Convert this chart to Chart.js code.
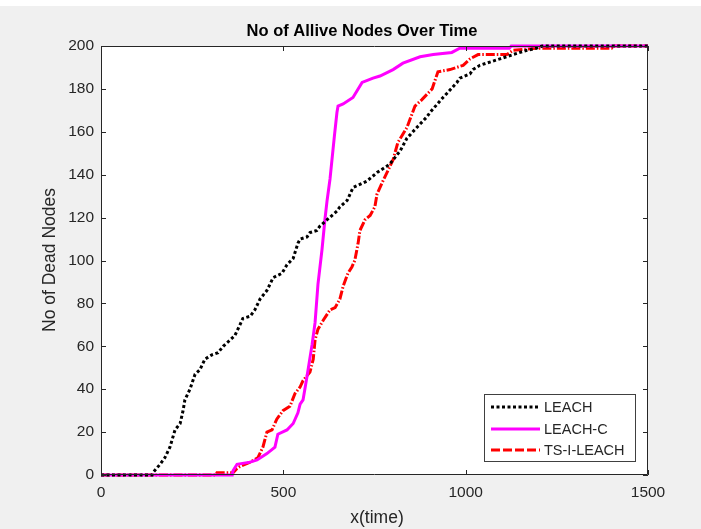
<!DOCTYPE html>
<html>
<head>
<meta charset="utf-8">
<script src="https://cdn.jsdelivr.net/npm/chart.js@4/dist/chart.umd.min.js"></script>
<style>
  html, body { margin: 0; padding: 0; background: #fff; }
  canvas { display: block; }
</style>
</head>
<body>
<canvas id="nodesChart" width="701" height="529"></canvas>
<script>
var seriesNames = ['LEACH', 'LEACH-C', 'TS-I-LEACH'];

var leachT = [0, 140, 142, 162, 175, 189, 203, 217, 225, 230, 244, 258, 271, 285, 304, 321, 335, 348, 367, 381, 389, 409, 422, 436, 455, 472, 496, 510, 527, 540, 546, 565, 573, 592, 600, 620, 647, 655, 675, 691, 729, 757, 784, 792, 820, 839, 866, 894, 902, 938, 949, 976, 984, 1012, 1020, 1039, 1094, 1130, 1168, 1195, 1210, 1500];
var leachV = [0, 0, 1, 5, 8, 13, 21, 24, 30, 35, 40, 47, 49, 54, 56, 57, 60, 62, 65, 70, 73, 74, 77, 82, 86, 92, 94, 98, 101, 108, 110, 111, 113, 114, 116, 119, 123, 125, 128, 134, 137, 141, 144, 145, 151, 157, 162, 167, 169, 176, 178, 183, 185, 187, 189, 191, 194, 196, 198, 199, 200, 200];

var leachCT = [0, 360, 362, 373, 409, 428, 455, 477, 485, 510, 527, 540, 546, 554, 559, 565, 579, 587, 595, 606, 614, 620, 628, 640, 647, 650, 664, 691, 716, 746, 765, 801, 828, 875, 911, 962, 984, 1120, 1125, 1500];
var leachCV = [0, 0, 2, 5, 6, 7, 10, 13, 19, 21, 24, 29, 33, 35, 40, 46, 61, 71, 89, 105, 119, 128, 138, 158, 169, 172, 173, 176, 183, 185, 186, 189, 192, 195, 196, 197, 199, 199, 200, 200];

var tsiT = [0, 315, 318, 362, 373, 381, 409, 430, 444, 455, 469, 482, 499, 518, 532, 546, 554, 573, 582, 587, 595, 609, 628, 642, 655, 664, 677, 688, 696, 705, 710, 724, 738, 751, 757, 773, 801, 814, 839, 861, 880, 908, 924, 957, 993, 1012, 1034, 1113, 1130, 1195, 1400, 1405, 1500];
var tsiV = [0, 0, 1, 1, 3, 4, 6, 8, 13, 20, 21, 26, 30, 32, 38, 41, 44, 48, 54, 63, 68, 72, 77, 78, 82, 88, 94, 97, 100, 108, 114, 119, 121, 125, 131, 137, 147, 155, 162, 172, 175, 180, 188, 189, 191, 194, 196, 196, 198, 199, 199, 200, 200];

var xTicks = [0, 500, 1000, 1500];
var yTicks = [0, 20, 40, 60, 80, 100, 120, 140, 160, 180, 200];

var FONT = '"Liberation Sans", Arial, Helvetica, sans-serif';
var TEXT = '#262626';

function toPoints(ts, vs) {
	return ts.map(function(t, i) { return { x: t, y: vs[i] }; });
}

// background, title, axis labels, box, inward ticks, legend
var matlabLook = {
	id: 'matlabLook',
	beforeDraw: function(chart) {
		var c = chart.ctx, a = chart.chartArea;
		c.save();
		c.fillStyle = '#fff';
		c.fillRect(0, 0, chart.width, chart.height);
		c.fillStyle = '#f0f0f0';
		c.fillRect(0, 6, chart.width, chart.height - 6);
		c.fillStyle = '#fff';
		c.fillRect(a.left, a.top, a.right - a.left, a.bottom - a.top);
		c.restore();
	},
	afterDraw: function(chart) {
		var c = chart.ctx, a = chart.chartArea;
		var xs = chart.scales.x, ys = chart.scales.y;
		c.save();

		// box and ticks
		c.strokeStyle = TEXT;
		c.lineWidth = 1;
		c.beginPath();
		c.rect(a.left + 0.5, a.top + 0.5, a.right - a.left - 1, a.bottom - a.top - 1);
		xTicks.forEach(function(v) {
			var px = Math.round(xs.getPixelForValue(v)) + 0.5;
			c.moveTo(px, a.bottom); c.lineTo(px, a.bottom - 5);
			c.moveTo(px, a.top); c.lineTo(px, a.top + 5);
		});
		yTicks.forEach(function(v) {
			var py = Math.round(ys.getPixelForValue(v)) + 0.5;
			c.moveTo(a.left, py); c.lineTo(a.left + 5, py);
			c.moveTo(a.right, py); c.lineTo(a.right - 5, py);
		});
		c.stroke();

		// title
		c.fillStyle = '#000';
		c.font = 'bold 16.5px ' + FONT;
		c.textAlign = 'center';
		c.textBaseline = 'middle';
		c.fillText('No of Allive Nodes Over Time', 362, 31);

		// axis titles
		c.fillStyle = TEXT;
		c.font = '17.5px ' + FONT;
		c.fillText('x(time)', 377, 518);
		c.translate(50, 260);
		c.rotate(-Math.PI / 2);
		c.fillText('No of Dead Nodes', 0, 0);
		c.setTransform(1, 0, 0, 1, 0, 0);

		// legend
		var bx = 484, by = 394, bw = 151, bh = 67;
		c.fillStyle = '#fff';
		c.fillRect(bx, by, bw, bh);
		c.strokeStyle = '#404040';
		c.strokeRect(bx + 0.5, by + 0.5, bw, bh);
		var rows = [407, 429, 450];
		chart.data.datasets.forEach(function(ds, i) {
			c.strokeStyle = ds.borderColor;
			c.lineWidth = ds.borderWidth;
			c.setLineDash(ds.legendDash || ds.borderDash || []);
			c.beginPath();
			c.moveTo(491, rows[i]); c.lineTo(540, rows[i]);
			c.stroke();
			c.setLineDash([]);
			c.fillStyle = TEXT;
			c.font = '14.5px ' + FONT;
			c.textAlign = 'left';
			c.fillText(ds.label, 544, rows[i] + 1);
		});
		c.restore();
	}
};

new Chart(document.getElementById('nodesChart'), {
	type: 'line',
	data: {
		datasets: [
			{ label: seriesNames[0], data: toPoints(leachT, leachV), borderColor: '#000000', borderWidth: 3, borderDash: [3, 2.5] },
			{ label: seriesNames[1], data: toPoints(leachCT, leachCV), borderColor: '#ff00ff', borderWidth: 3 },
			{ label: seriesNames[2], data: toPoints(tsiT, tsiV), borderColor: '#ff0000', borderWidth: 3, borderDash: [9, 2, 1.5, 2], legendDash: [9, 3] }
		]
	},
	options: {
		responsive: false,
		animation: false,
		devicePixelRatio: 1,
		layout: { padding: { top: 46, right: 53, left: 0, bottom: 0 } },
		elements: { point: { radius: 0 }, line: { tension: 0 } },
		datasets: { line: { clip: false } },
		plugins: { legend: { display: false }, title: { display: false }, tooltip: { enabled: false } },
		scales: {
			x: {
				type: 'linear', min: 0, max: 1500,
				afterBuildTicks: function(s) { s.ticks = xTicks.map(function(v) { return { value: v }; }); },
				afterFit: function(s) { s.height = 54; },
				grid: { display: false, drawTicks: false },
				border: { display: false },
				ticks: { color: TEXT, font: { family: FONT, size: 15.5 }, padding: 8, maxRotation: 0,
					callback: function(v) { return String(v); } }
			},
			y: {
				type: 'linear', min: 0, max: 200,
				afterBuildTicks: function(s) { s.ticks = yTicks.map(function(v) { return { value: v }; }); },
				afterFit: function(s) { s.width = 101; },
				grid: { display: false, drawTicks: false },
				border: { display: false },
				ticks: { color: TEXT, font: { family: FONT, size: 15.5 }, padding: 7,
					callback: function(v) { return String(v); } }
			}
		}
	},
	plugins: [matlabLook]
});
</script>
</body>
</html>
